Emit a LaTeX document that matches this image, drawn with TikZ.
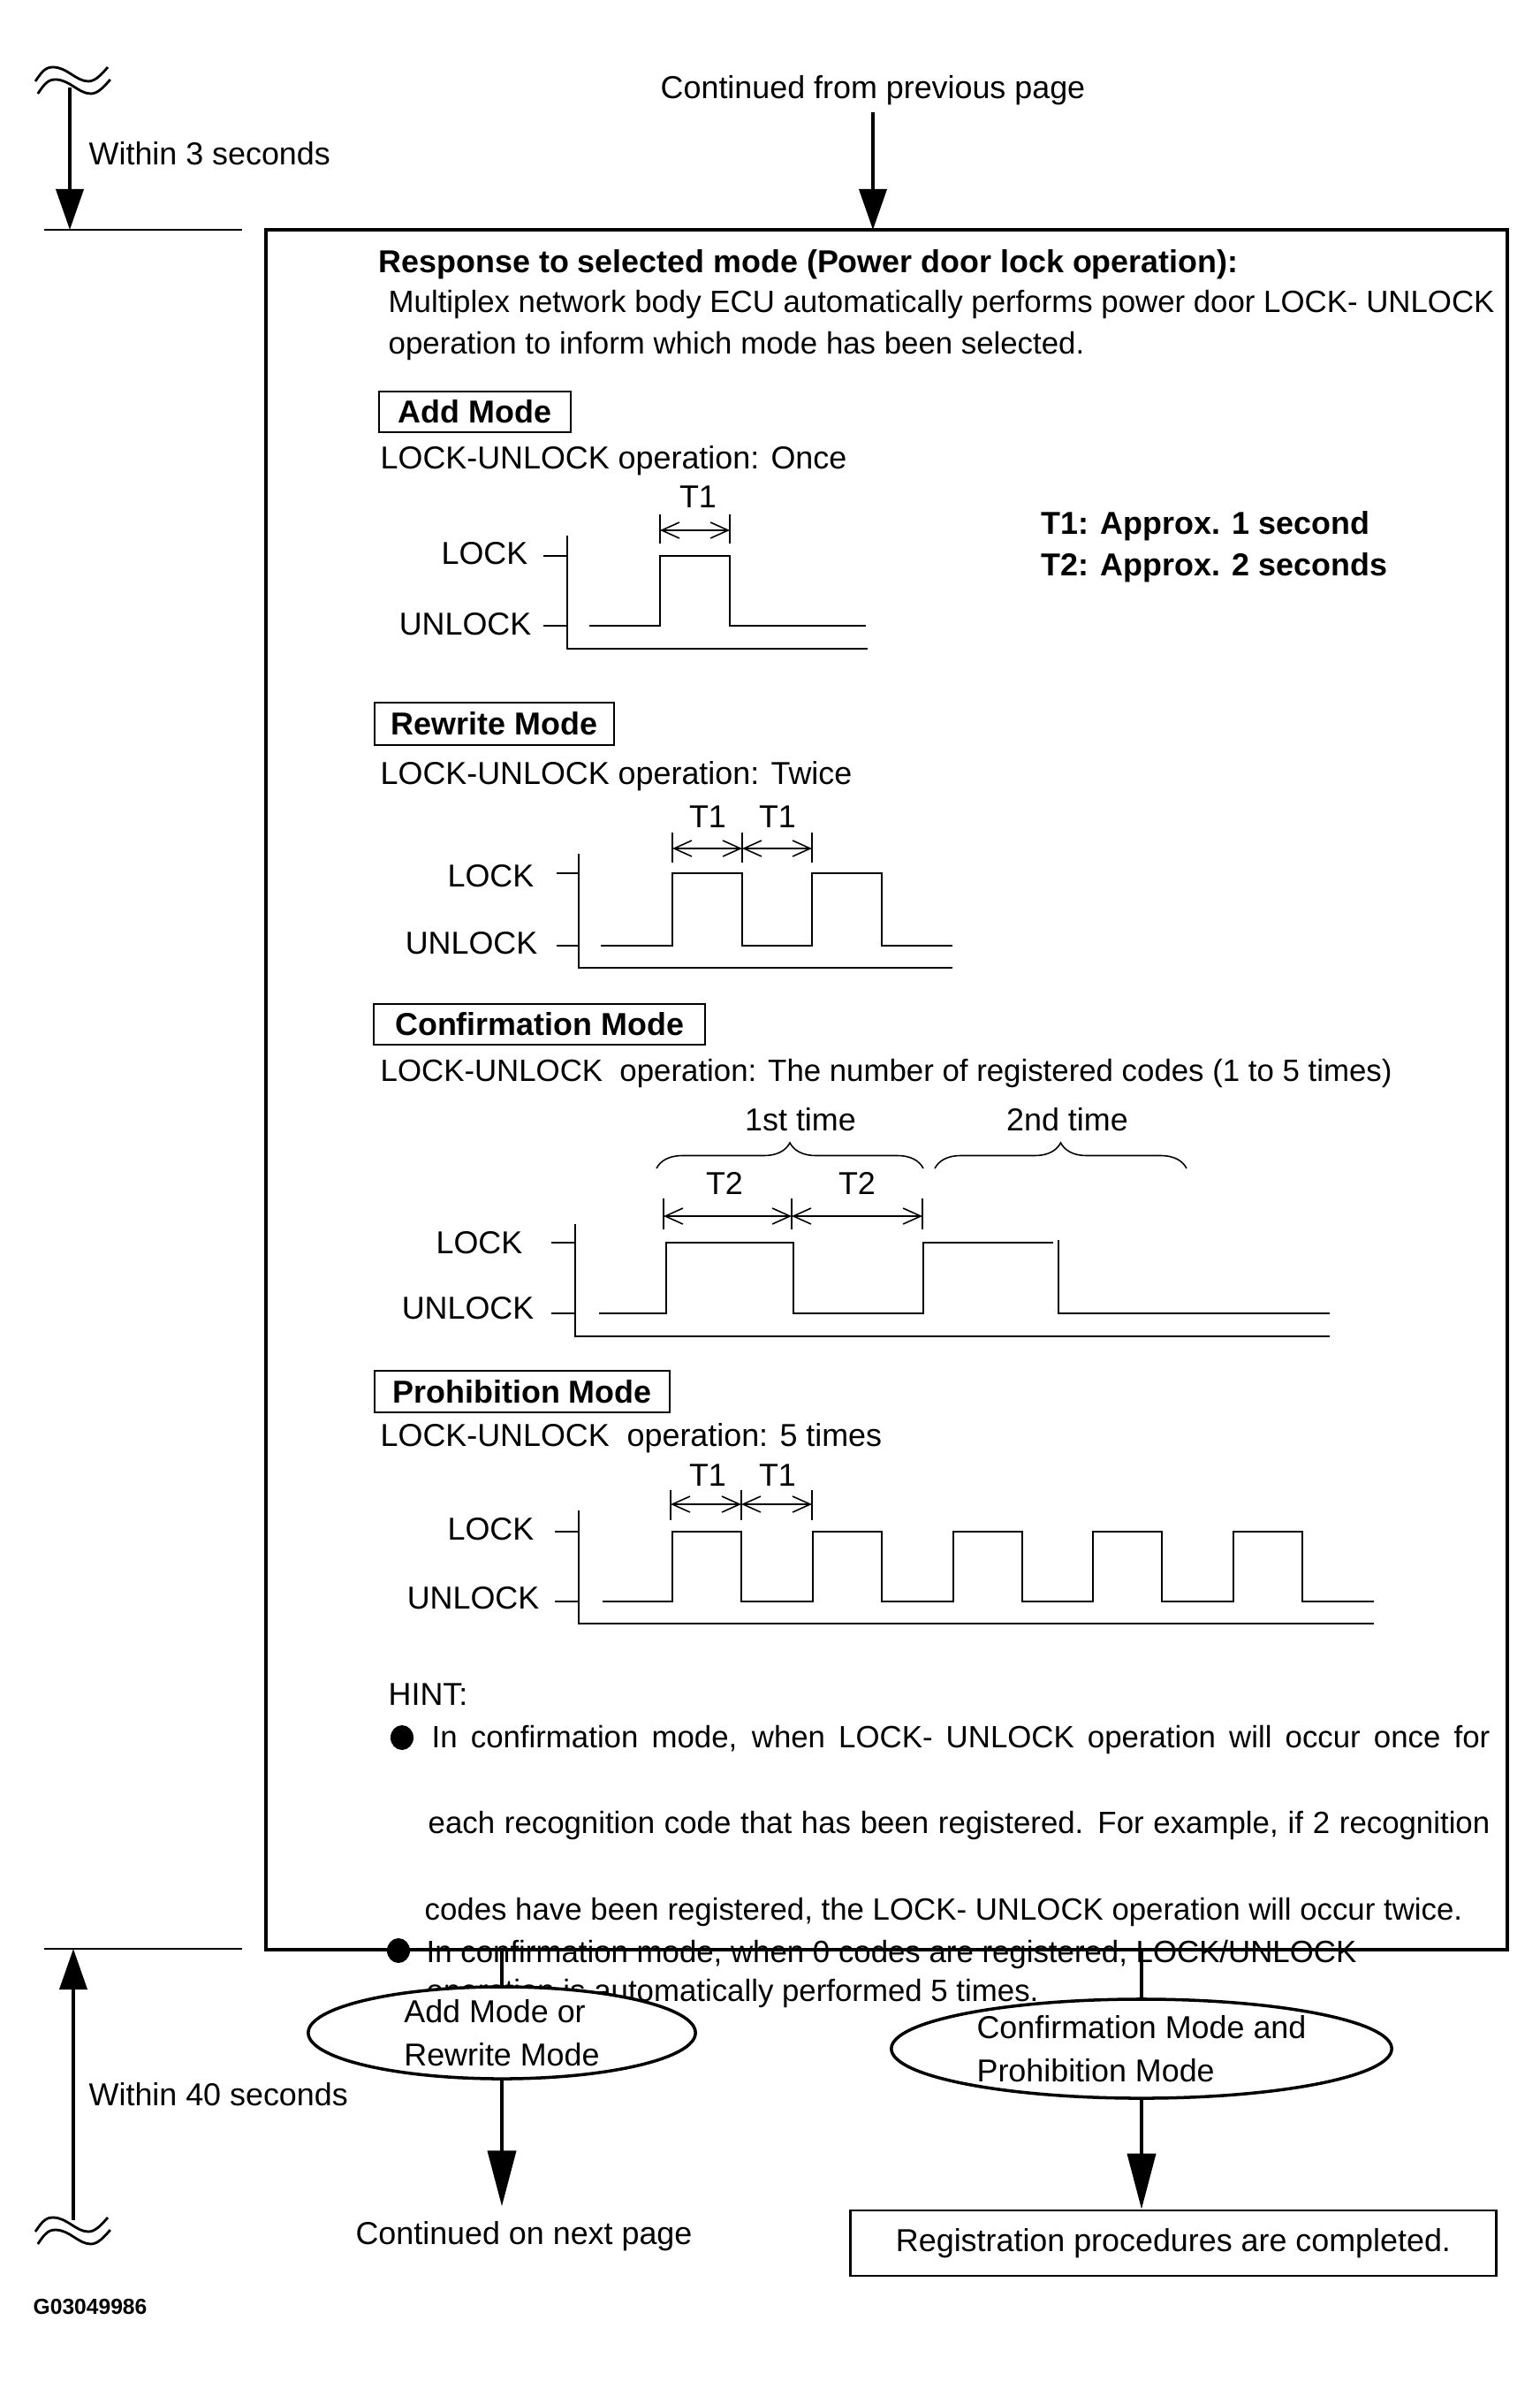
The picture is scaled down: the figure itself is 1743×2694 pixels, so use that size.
\documentclass[tikz,border=0pt]{standalone}
\usepackage{fontspec}
\setmainfont{Liberation Sans}
\usetikzlibrary{arrows.meta, shapes.geometric, decorations.pathreplacing}

\begin{document}
\begin{tikzpicture}[x=0.01cm, y=-0.01cm,
    font=\fontsize{10.2}{14}\selectfont,
    txt/.style={inner sep=0pt, anchor=base west},
    longtxt/.style={txt, font=\fontsize{9.9}{12}\selectfont},
    lvl/.style={inner sep=0pt, anchor=base east},
    tlab/.style={inner sep=0pt, anchor=base},
    boldtxt/.style={txt, font=\fontsize{10.2}{12}\selectfont\bfseries},
    modebox/.style={draw, line width=0.55pt, font=\fontsize{10.2}{12}\selectfont\bfseries, anchor=north west, inner sep=0pt},
    flow/.style={line width=1.1pt},
    bigarrow/.style={flow, -{Triangle[length=0.46cm, width=0.31cm]}},
    longarrow/.style={flow, -{Triangle[length=0.63cm, width=0.32cm]}},
    chartaxis/.style={line width=0.75pt},
    sig/.style={line width=0.6pt},
    dimtick/.style={line width=0.45pt},
    dimline/.style={line width=0.45pt, {Straight Barb[length=0.2cm, width=0.18cm]}-{Straight Barb[length=0.2cm, width=0.18cm]}},
    timebrace/.style={decorate, decoration={brace, amplitude=0.29cm}, line width=0.45pt},
    modeoval/.style={ellipse, draw, fill=white, line width=1pt, inner sep=0pt}]

    \useasboundingbox (0,0) rectangle (1743,2694);

    % time limits at the left side
    \foreach \sy in {0,2433}
        \foreach \dy in {0,14}
            \draw[line width=0.8pt, shift={(\dy/5,\sy+\dy)}] (40,92) .. controls (48,80) and (52,76) .. (60,76) .. controls (76,76) and (86,92) .. (100,92) .. controls (108,92) and (115,84) .. (122,76);
    \coordinate (brk1) at (79,99);
    \coordinate (lim1) at (79,260);
    \coordinate (brk2) at (83,2512);
    \coordinate (lim2) at (83,2205);
    \draw[bigarrow] (brk1) -- (lim1);
    \draw[bigarrow] (brk2) -- (lim2);
    \draw[line width=0.8pt] (50,260) -- (274,260);
    \draw[line width=0.8pt] (50,2205) -- (274,2205);
    \node[txt] (lim1txt) at (100,186) {Within 3 seconds};
    \node[txt] (lim2txt) at (100,2382) {Within 40 seconds};

    % main box
    \node[draw, line width=0.95pt, anchor=north west, minimum width=14.04cm, minimum height=19.45cm, inner sep=0pt, outer sep=0pt] (resp) at (301,260) {};
    \node[tlab] (prev) at (988,112) {Continued from previous page};
    \draw[bigarrow] ([yshift=-0.07cm]prev.south) -- (prev.south |- resp.north);

    \node[boldtxt] (resptitle) at (428,308) {Response to selected mode (Power door lock operation):};
    \node[longtxt] (intro1) at (439,353) {Multiplex network body ECU automatically performs power door LOCK- UNLOCK};
    \node[longtxt] (intro2) at (439,400) {operation to inform which mode has been selected.};

    \node[boldtxt] (t1def) at (1178,604) {T1: Approx. 1 second};
    \node[boldtxt] (t2def) at (1178,651) {T2: Approx. 2 seconds};

    % add mode
    \node[modebox, minimum width=2.17cm, minimum height=0.46cm] (addmode) at (428,442) {Add Mode};
    \node[txt] (addop) at (430,530) {LOCK-UNLOCK operation: Once};
    \draw[chartaxis] (642,606) |- (982,734);
    \draw[chartaxis] (615,629) -- (642,629) (615,708) -- (642,708);
    \draw[sig] (667,708) -| (747,629) -| (826,708) -- (980,708);
    \draw[dimtick] (747,582) -- (747,615) (826,582) -- (826,615);
    \draw[dimline] (747,600) -- (826,600);
    \node[tlab] (t1a) at (790,574) {T1};
    \node[lvl] (locka) at (598,638) {LOCK};
    \node[lvl] (unlocka) at (602,718) {UNLOCK};

    % rewrite mode
    \node[modebox, minimum width=2.71cm, minimum height=0.48cm] (rwmode) at (423,794) {Rewrite Mode};
    \node[txt] (rwop) at (430,887) {LOCK-UNLOCK operation: Twice};
    \draw[chartaxis] (655,966) |- (1078,1095);
    \draw[chartaxis] (630,988) -- (655,988) (630,1070) -- (655,1070);
    \draw[sig] (680,1070) \foreach \k in {0,1} { -| (761+158*\k,988) -| (840+158*\k,1070) } -- (1078,1070);
    \foreach \x in {761,840,919} \draw[dimtick] (\x,942) -- (\x,976);
    \draw[dimline] (761,960) -- (840,960);
    \draw[dimline] (840,960) -- (919,960);
    \node[tlab] (t1b) at (801,936) {T1};
    \node[tlab] (t1c) at (880,936) {T1};
    \node[lvl] (lockb) at (605,1003) {LOCK};
    \node[lvl] (unlockb) at (609,1079) {UNLOCK};

    % confirmation mode
    \node[modebox, minimum width=3.75cm, minimum height=0.46cm] (cfmode) at (422,1135) {Confirmation Mode};
    \node[longtxt] (cfop) at (430,1223) {LOCK-UNLOCK\ \ operation: The number of registered codes (1 to 5 times)};
    \draw[chartaxis] (651,1385) |- (1505,1512);
    \draw[chartaxis] (624,1406) -- (651,1406) (624,1486) -- (651,1486);
    \draw[sig] (678,1486) -| (754,1406) -| (898,1486) -| (1045,1406) -- (1192,1406);
    \draw[sig] (1198,1403) -- (1198,1486) -- (1505,1486);
    \foreach \x in {751,896,1044} \draw[dimtick] (\x,1356) -- (\x,1391);
    \draw[dimline] (751,1376) -- (896,1376);
    \draw[dimline] (896,1376) -- (1044,1376);
    \node[tlab] (t2a) at (820,1351) {T2};
    \node[tlab] (t2b) at (970,1351) {T2};
    \draw[timebrace] (743,1322) -- (1045,1322);
    \draw[timebrace] (1058,1322) -- (1343,1322);
    \node[tlab] (first) at (906,1279) {1st time};
    \node[tlab] (second) at (1208,1279) {2nd time};
    \node[lvl] (lockc) at (592,1418) {LOCK};
    \node[lvl] (unlockc) at (605,1492) {UNLOCK};

    % prohibition mode
    \node[modebox, minimum width=3.34cm, minimum height=0.47cm] (prmode) at (423,1550) {Prohibition Mode};
    \node[txt] (prop) at (430,1636) {LOCK-UNLOCK\ \ operation: 5 times};
    \draw[chartaxis] (655,1709) |- (1555,1837);
    \draw[chartaxis] (628,1733) -- (655,1733) (628,1812) -- (655,1812);
    \draw[sig] (682,1812) \foreach \k in {0,...,4} { -| (761+158.8*\k,1733) -| (839+158.8*\k,1812) } -- (1555,1812);
    \foreach \x in {759,839,919} \draw[dimtick] (\x,1686) -- (\x,1720);
    \draw[dimline] (759,1702) -- (839,1702);
    \draw[dimline] (839,1702) -- (919,1702);
    \node[tlab] (t1d) at (801,1681) {T1};
    \node[tlab] (t1e) at (880,1681) {T1};
    \node[lvl] (lockd) at (605,1742) {LOCK};
    \node[lvl] (unlockd) at (611,1820) {UNLOCK};

    % hint
    \node[txt] (hint) at (439,1929) {HINT:};
    \fill (455,1966) ellipse (13 and 14);
    \node[longtxt] (hint1) at (488,1977) {\makebox[11.97cm][s]{In confirmation mode, when LOCK- UNLOCK operation will occur once for}};
    \node[longtxt] (hint2) at (484,2074) {\makebox[12.01cm][s]{each recognition code that has been registered. For example, if 2 recognition}};
    \node[longtxt] (hint3) at (480,2172) {codes have been registered, the LOCK- UNLOCK operation will occur twice.};
    \fill (451,2207) ellipse (13 and 14);
    \node[longtxt] (hint4) at (482,2220) {In confirmation mode, when 0 codes are registered, LOCK/UNLOCK};
    \node[longtxt] (hint5) at (482,2264) {operation is automatically performed 5 times.};

    % selected mode branches
    \node[modeoval, minimum width=4.38cm, minimum height=1.04cm] (addrw) at (568,2300) {};
    \node[inner sep=0pt, align=left] (addrwtxt) at (addrw) {Add Mode or\\Rewrite Mode};
    \node[modeoval, minimum width=5.66cm, minimum height=1.12cm] (cfpr) at (1292,2318) {};
    \node[inner sep=0pt, align=left] (cfprtxt) at (cfpr) {Confirmation Mode and\\Prohibition Mode};
    \draw[flow] (resp.south -| addrw.north) -- (addrw.north);
    \draw[flow] (resp.south -| cfpr.north) -- (cfpr.north);

    \node[tlab] (next) at (593,2539) {Continued on next page};
    \node[draw, line width=0.8pt, minimum width=7.31cm, minimum height=0.74cm, inner sep=0pt] (done) at (1328,2538) {Registration procedures are completed.};
    \draw[longarrow] (addrw.south) -- ([yshift=0.16cm]addrw.south |- next.north);
    \draw[longarrow] (cfpr.south) -- (cfpr.south |- done.north);

    \node[txt, font=\fontsize{7}{8}\selectfont\bfseries] (figid) at (37,2618) {G03049986};
\end{tikzpicture}
\end{document}
